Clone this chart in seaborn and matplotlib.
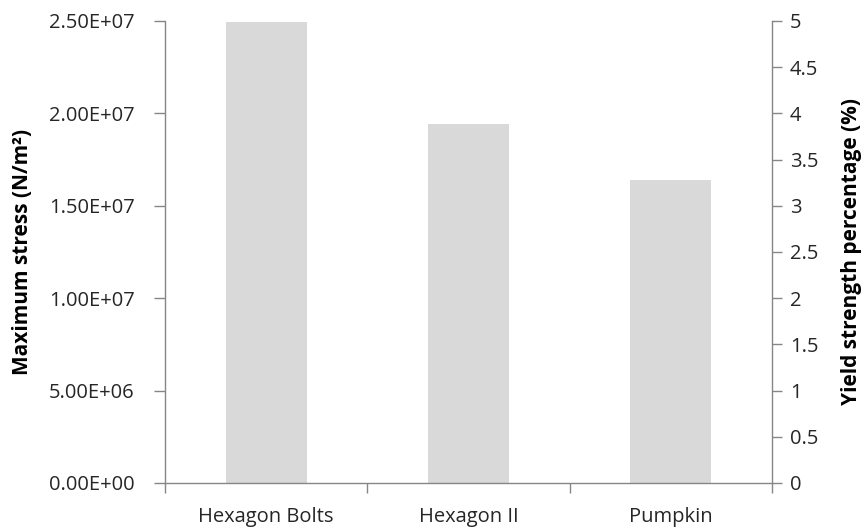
import matplotlib
matplotlib.use("Agg")
import matplotlib.pyplot as plt
from matplotlib.ticker import FuncFormatter, FixedLocator
import seaborn as sns
import pandas as pd

# Structure designs and their simulated maximum stress
designs = ["Hexagon Bolts", "Hexagon II", "Pumpkin"]
max_stress = [2.495e7, 1.941e7, 1.641e7]

# Axis ranges
stress_ticks = [0, 5e6, 1e7, 1.5e7, 2e7, 2.5e7]
yield_pct_ticks = [0, 0.5, 1, 1.5, 2, 2.5, 3, 3.5, 4, 4.5, 5]

sns.set_theme(style="white")
plt.rcParams["font.family"] = ["Open Sans", "DejaVu Sans"]

df = pd.DataFrame({"design": designs, "stress": max_stress})

fig = plt.figure(figsize=(8.65, 5.3), dpi=100)
ax = fig.add_axes([0.1908, 0.0887, 0.8925 - 0.1908, 0.9604 - 0.0887])

sns.barplot(data=df, x="design", y="stress", order=designs, color="#d9d9d9",
            saturation=1, width=0.4, ax=ax, linewidth=0)

spine_col = "#868686"
text_col = "#262626"
tick_fs = 14.5
label_fs = 15

ax.set_xlim(-0.5, 2.5)
ax.set_ylim(0, 2.5e7)
ax.yaxis.set_major_locator(FixedLocator(stress_ticks))
ax.yaxis.set_major_formatter(FuncFormatter(lambda v, p: f"{v:.2E}"))

# category boundaries get tick marks, category centres get the labels
ax.xaxis.set_major_locator(FixedLocator([-0.5, 0.5, 1.5, 2.5]))
ax.xaxis.set_major_formatter(FuncFormatter(lambda v, p: ""))
ax.xaxis.set_minor_locator(FixedLocator([0, 1, 2]))
ax.xaxis.set_minor_formatter(FuncFormatter(lambda v, p: designs[int(round(v))]))
ax.tick_params(axis="x", which="major", direction="out", length=7, width=1,
               color=spine_col, bottom=True)
ax.tick_params(axis="x", which="minor", length=0, pad=17, labelsize=tick_fs,
               labelcolor=text_col, bottom=True)
ax.tick_params(axis="y", direction="out", length=8, width=1, color=spine_col,
               left=True, labelsize=tick_fs, labelcolor=text_col, pad=14)

ax.set_xlabel("")
ax.set_ylabel("Maximum stress (N/m²)", fontsize=label_fs, fontweight="bold",
              color="#000000", labelpad=11)

for side in ["top", "right"]:
    ax.spines[side].set_visible(False)
for side in ["left", "bottom"]:
    ax.spines[side].set_color(spine_col)
    ax.spines[side].set_linewidth(1)

ax2 = ax.twinx()
ax2.set_ylim(0, 5)
ax2.yaxis.set_major_locator(FixedLocator(yield_pct_ticks))
ax2.yaxis.set_major_formatter(FuncFormatter(lambda v, p: f"{v:g}"))
ax2.tick_params(axis="y", direction="out", length=7, width=1, color=spine_col,
                right=True, labelsize=tick_fs, labelcolor=text_col, pad=6)
ax2.set_ylabel("Yield strength percentage (%)", fontsize=label_fs,
               fontweight="bold", color="#000000", labelpad=16)
for side in ["top", "left", "bottom"]:
    ax2.spines[side].set_visible(False)
ax2.spines["right"].set_color(spine_col)
ax2.spines["right"].set_linewidth(1)

fig.savefig("out.png", dpi=100)
